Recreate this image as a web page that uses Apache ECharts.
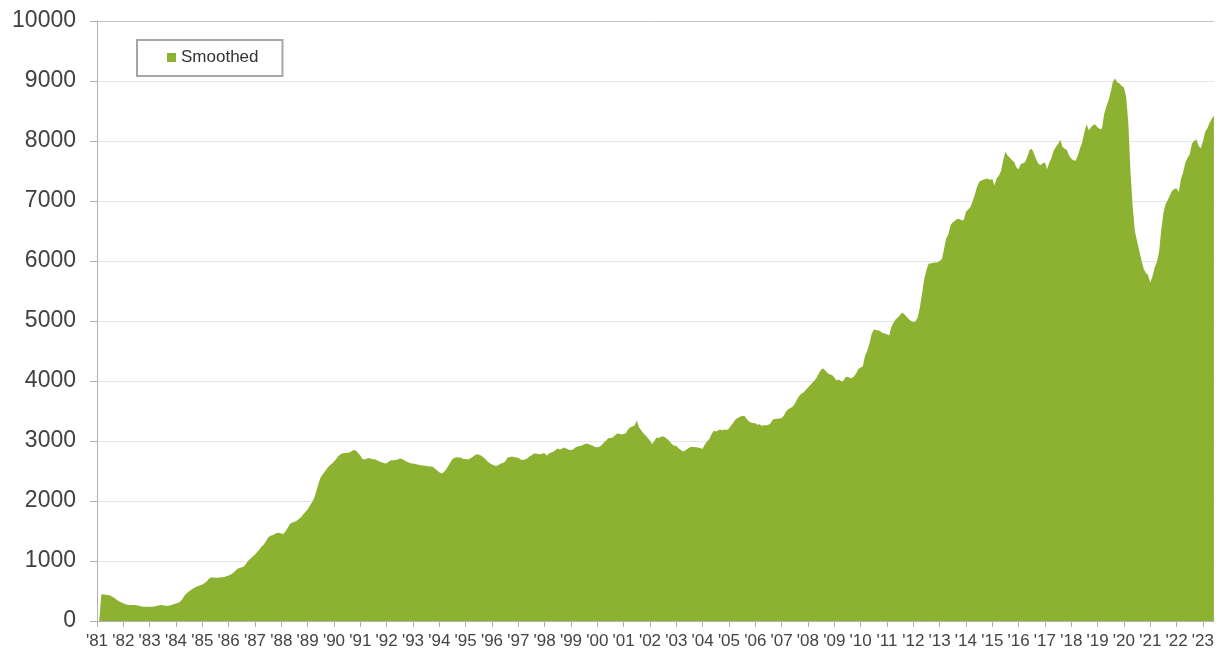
<!DOCTYPE html>
<html>
<head>
<meta charset="utf-8">
<script src="https://cdn.jsdelivr.net/npm/echarts@6/dist/echarts.min.js"></script>
<style>
html,body{margin:0;padding:0;background:#fff;}
#chart{width:1217px;height:655px;}
</style>
</head>
<body>
<div id="chart"></div>
<script>
// Monthly values, starting January 1981
const startYear = 1981;
const v1980s = [
  0, 0, 445, 442, 438, 432, 424, 405, 385, 355, 330, 312,
  295, 280, 272, 268, 266, 265, 262, 255, 245, 238, 238, 237,
  237, 238, 240, 248, 258, 266, 262, 256, 254, 258, 268, 278,
  290, 305, 325, 370, 430, 465, 495, 520, 545, 565, 580, 595,
  610, 635, 660, 705, 730, 725, 720, 722, 725, 728, 735, 745,
  760, 775, 800, 835, 870, 882, 895, 910, 960, 1010, 1040, 1075,
  1110, 1150, 1190, 1240, 1275, 1330, 1390, 1420, 1430, 1450, 1465, 1470,
  1460, 1450, 1500, 1560, 1620, 1640, 1655, 1670, 1700, 1730, 1780, 1820,
  1860, 1920, 1980, 2050, 2170, 2300, 2400, 2450, 2500, 2550, 2590, 2620
];
const v1990s = [
  2660, 2700, 2750, 2780, 2795, 2800, 2805, 2810, 2830, 2850, 2840, 2800,
  2760, 2700, 2690, 2710, 2715, 2700, 2695, 2690, 2670, 2655, 2640, 2630,
  2630, 2660, 2680, 2680, 2685, 2690, 2710, 2700, 2680, 2660, 2640, 2630,
  2625, 2615, 2610, 2600, 2590, 2590, 2585, 2580, 2575, 2570, 2540, 2510,
  2480, 2460, 2480, 2520, 2580, 2640, 2700, 2720, 2730, 2725, 2720, 2700,
  2700, 2690, 2710, 2730, 2760, 2780, 2770, 2760, 2730, 2700, 2660, 2630,
  2610, 2590, 2585, 2600, 2625, 2635, 2660, 2720, 2730, 2740, 2735, 2725,
  2720, 2690, 2685, 2690, 2710, 2740, 2760, 2790, 2790, 2785, 2780, 2790,
  2795, 2755, 2790, 2810, 2820, 2850, 2875, 2860, 2875, 2890, 2870, 2855,
  2850, 2860, 2890, 2910, 2915, 2925, 2945, 2960, 2950, 2935, 2920, 2900
];
const v2000s = [
  2895, 2905, 2935, 2975, 3010, 3045, 3050, 3060, 3090, 3125, 3120, 3110,
  3115, 3130, 3190, 3230, 3240, 3260, 3340, 3230, 3180, 3130, 3090, 3050,
  3010, 2950, 3000, 3060, 3050, 3070, 3080, 3060, 3030, 2990, 2950, 2920,
  2920, 2880, 2855, 2825, 2840, 2865, 2890, 2905, 2900, 2895, 2890, 2880,
  2870, 2940, 2990, 3030, 3110, 3170, 3160, 3175, 3190, 3180, 3190, 3185,
  3210, 3260, 3310, 3360, 3385, 3405, 3415, 3420, 3370, 3330, 3310, 3300,
  3295, 3270, 3280, 3250, 3265, 3260, 3270, 3295, 3360, 3365, 3370, 3375,
  3385, 3420, 3490, 3530, 3550, 3570, 3620, 3690, 3750, 3790, 3810, 3850,
  3890, 3930, 3970, 4010, 4060, 4130, 4190, 4210, 4170, 4130, 4110, 4100,
  4060, 4010, 4025, 4000, 3995, 4060, 4070, 4055, 4045, 4080, 4130, 4200
];
const v2010s = [
  4225, 4240, 4420, 4500, 4620, 4780, 4860, 4850, 4840, 4830, 4800, 4790,
  4780, 4760, 4900, 4970, 5030, 5060, 5100, 5140, 5110, 5070, 5030, 5000,
  4985, 4990, 5060, 5220, 5460, 5700, 5850, 5960, 5960, 5970, 5975, 5975,
  6000, 6030, 6190, 6380, 6440, 6600, 6640, 6670, 6700, 6700, 6680, 6680,
  6820, 6860, 6894, 6990, 7100, 7230, 7315, 7340, 7355, 7365, 7375, 7350,
  7370, 7260, 7380, 7420, 7500, 7680, 7820, 7760, 7720, 7680, 7650, 7560,
  7530, 7615, 7630, 7650, 7740, 7850, 7870, 7790, 7700, 7620, 7600, 7630,
  7640, 7530, 7640, 7720, 7840, 7900, 7950, 8020, 7900, 7870, 7850, 7760,
  7710, 7680, 7670, 7760, 7880, 7980, 8150, 8280, 8180, 8230, 8265, 8275,
  8225, 8200, 8210, 8450, 8580, 8680, 8820, 8990, 9040, 8975, 8960, 8915
];
const v2020s = [
  8890, 8740, 8300, 7480, 6900, 6500, 6330, 6170, 6010, 5870, 5800, 5765,
  5640, 5740, 5890, 5980, 6150, 6517, 6800, 6950, 7015, 7100, 7170, 7205,
  7210, 7150, 7370, 7480, 7640, 7720, 7780, 7960, 8000, 8030, 7920, 7880,
  7990, 8150, 8210, 8300, 8370, 8420
];
const seriesName = 'Smoothed';
const yTicks = [0, 1000, 2000, 3000, 4000, 5000, 6000, 7000, 8000, 9000, 10000];

const values = [].concat(v1980s, v1990s, v2000s, v2010s, v2020s);
const months = values.map((_, i) => {
  const y = startYear + Math.floor(i / 12);
  const m = (i % 12) + 1;
  return y + '-' + (m < 10 ? '0' + m : m);
});
const isJan = (idx, val) => String(val).slice(5) === '01';

const chart = echarts.init(document.getElementById('chart'), null, {renderer: 'canvas'});
const gridColors = yTicks.map((t, i) => i === yTicks.length - 1 ? '#c4c4c4' : '#e6e6e6');
chart.setOption({
  animation: false,
  backgroundColor: '#ffffff',
  grid: {left: 97, right: 1, top: 21, bottom: 34, containLabel: false},
  legend: {
    show: true,
    left: 137, top: 40,
    padding: [9, 24, 10, 30],
    borderColor: '#a6a6a6', borderWidth: 2,
    backgroundColor: '#fff',
    itemWidth: 9, itemHeight: 9, itemGap: 5,
    icon: 'rect',
    textStyle: {fontFamily: 'Liberation Sans, Arial, sans-serif', fontSize: 17, color: '#333'},
    data: [seriesName]
  },
  xAxis: {
    type: 'category',
    data: months,
    boundaryGap: false,
    axisLine: {show: true, lineStyle: {color: '#b0b0b0', width: 1}},
    axisTick: {show: true, interval: isJan, length: 6, lineStyle: {color: '#b0b0b0'}},
    axisLabel: {
      interval: isJan,
      margin: 12,
      fontFamily: 'Liberation Sans, Arial, sans-serif',
      fontSize: 17,
      color: '#444',
      formatter: v => "'" + v.slice(2, 4)
    },
    splitLine: {show: false}
  },
  yAxis: {
    type: 'value',
    min: 0, max: 10000, interval: 1000,
    axisLine: {show: true, lineStyle: {color: '#b0b0b0', width: 1}},
    axisTick: {show: true, length: 7, lineStyle: {color: '#b0b0b0'}},
    axisLabel: {
      margin: 21,
      fontFamily: 'Liberation Sans, Arial, sans-serif',
      fontSize: 23,
      color: '#404040',
      formatter: v => String(v)
    },
    splitLine: {show: true, lineStyle: {color: gridColors, width: 1}}
  },
  series: [{
    name: seriesName,
    type: 'line',
    data: values,
    showSymbol: false,
    symbol: 'none',
    lineStyle: {width: 0},
    itemStyle: {color: '#8db231'},
    areaStyle: {color: '#8db231', opacity: 1},
    z: 3
  }]
});
</script>
</body>
</html>
